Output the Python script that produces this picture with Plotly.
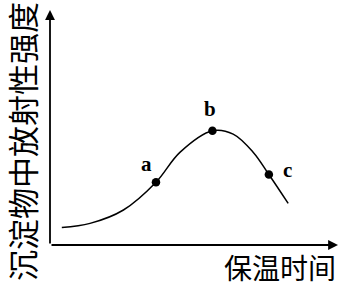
import plotly.graph_objects as go

# Curve (x: 保温时间, y: 沉淀物中放射性强度), arbitrary units
curve_x = [0.41, 1.39, 2.55, 3.68, 4.51, 5.64, 6.36, 7.06, 7.60, 8.27]
curve_y = [0.74, 0.92, 1.49, 2.67, 3.94, 4.86, 4.72, 3.94, 3.00, 1.77]

point_labels = ["a", "b", "c"]
point_x = [3.68, 5.64, 7.60]
point_y = [2.67, 4.86, 3.00]

x_title = "保温时间"
y_title = "沉淀物中放射性强度"


def px_to_x(px):
    return (px - 50) / 28.8


def py_to_y(py):
    return (245 - py) / 23.5


fig = go.Figure()
fig.add_trace(go.Scatter(x=curve_x, y=curve_y, mode="lines",
                         line=dict(color="black", width=1.5, shape="spline", smoothing=1.0),
                         hoverinfo="skip", showlegend=False))
fig.add_trace(go.Scatter(x=point_x, y=point_y, mode="markers",
                         marker=dict(color="black", size=8.5),
                         showlegend=False))

label_shift = [(-9, 18), (-2, 22), (19, 5)]
for lab, px, py, (dx, dy) in zip(point_labels, point_x, point_y, label_shift):
    fig.add_annotation(x=px, y=py, text="<b>" + lab + "</b>", showarrow=False,
                       xshift=dx, yshift=dy, borderpad=0,
                       font=dict(family="Liberation Serif", size=21, color="black"))

# axes with arrows
fig.add_annotation(x=10.0, y=0, ax=0, ay=0, xref="x", yref="y", axref="x", ayref="y",
                   showarrow=True, arrowhead=2, arrowsize=1.1, arrowwidth=1.8,
                   arrowcolor="black", text="")
fig.add_annotation(x=0, y=10.0, ax=0, ay=0, xref="x", yref="y", axref="x", ayref="y",
                   showarrow=True, arrowhead=2, arrowsize=1.1, arrowwidth=1.8,
                   arrowcolor="black", text="")

fig.add_annotation(x=px_to_x(280), y=py_to_y(267), xref="x", yref="y", text=x_title,
                   showarrow=False, borderpad=0,
                   font=dict(family="Noto Sans CJK SC", size=28, color="black"))
fig.add_annotation(x=px_to_x(21), y=py_to_y(142), xref="x", yref="y", text=y_title,
                   showarrow=False, textangle=-90, borderpad=0,
                   font=dict(family="Noto Sans CJK SC", size=31, color="black"))

fig.update_layout(
    width=341, height=287,
    margin=dict(l=0, r=0, t=0, b=0),
    paper_bgcolor="white", plot_bgcolor="white",
    xaxis=dict(range=[px_to_x(0), px_to_x(341)], visible=False, fixedrange=True),
    yaxis=dict(range=[py_to_y(287), py_to_y(0)], visible=False, fixedrange=True),
    showlegend=False,
)

fig.write_html("out.html")
